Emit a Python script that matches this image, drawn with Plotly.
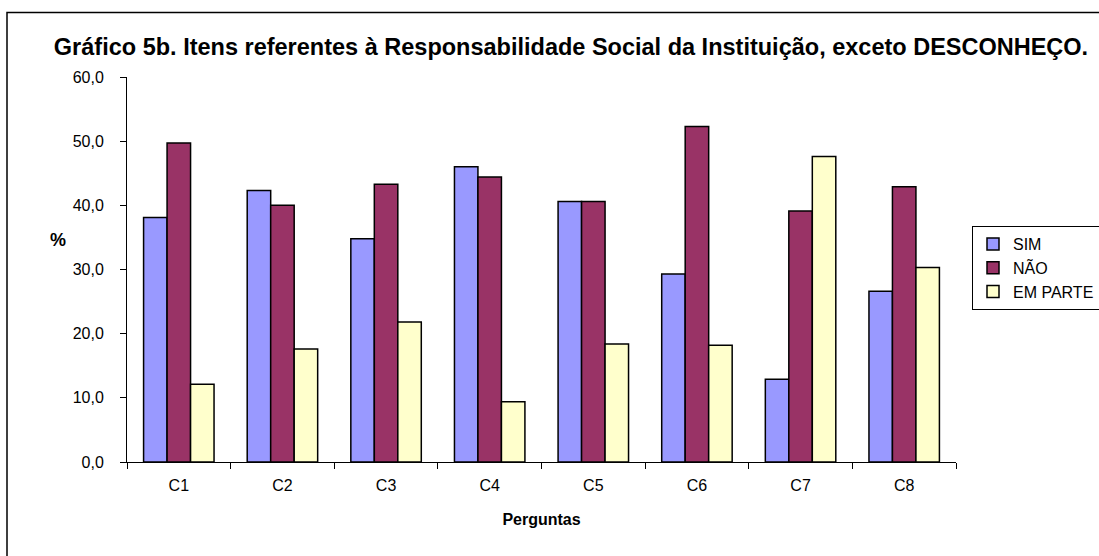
import plotly.graph_objects as go

# Percentual de respostas por pergunta (exceto "desconheço")
perguntas = ["C1", "C2", "C3", "C4", "C5", "C6", "C7", "C8"]
sim = [38.1, 42.3, 34.8, 46.0, 40.6, 29.3, 12.9, 26.6]
nao = [49.7, 40.0, 43.3, 44.4, 40.6, 52.3, 39.1, 42.9]
em_parte = [12.1, 17.6, 21.8, 9.4, 18.4, 18.2, 47.6, 30.3]

series = [
    ("SIM", sim, "#9999FF"),
    ("NÃO", nao, "#993366"),
    ("EM PARTE", em_parte, "#FFFFCC"),
]

FONT = "Liberation Sans, Arial, sans-serif"

fig = go.Figure()
for i, (nome, valores, cor) in enumerate(series):
    fig.add_trace(go.Bar(
        x=perguntas, y=valores, name=nome,
        legendgroup=f"g{i}",
        marker=dict(color=cor, line=dict(color="#000000", width=1.5)),
    ))

W, H = 1099, 556
L, R, T, B = 127, 956, 77, 462
pw, ph = R - L, B - T

def px_x(v):
    return (v - L) / pw

def px_y(v):
    return (B - v) / ph

fig.update_layout(
    width=W, height=H,
    margin=dict(l=L, r=W - R, t=T, b=H - B, autoexpand=False),
    paper_bgcolor="white", plot_bgcolor="white",
    separators=",.",
    barmode="group", bargap=0.32, bargroupgap=0,
    font=dict(family=FONT, size=16, color="#000000"),
    title=dict(
        text="<b>Gráfico 5b. Itens referentes à Responsabilidade Social da Instituição, exceto DESCONHEÇO.</b>",
        font=dict(family=FONT, size=23.5, color="#000000"),
        xref="container", yref="container",
        x=571 / W, xanchor="center",
        y=1 - 47 / H, yanchor="middle",
    ),
    xaxis=dict(
        showline=True, linecolor="#000000", linewidth=1,
        ticks="outside", tickson="boundaries", ticklen=6, tickcolor="#000000",
        ticklabelstandoff=9,
        tickfont=dict(family=FONT, size=16),
        title=dict(text="<b>Perguntas</b>", font=dict(family=FONT, size=16), standoff=20),
        showgrid=False,
    ),
    yaxis=dict(
        range=[0, 60], dtick=10, tickformat=".1f",
        showline=True, linecolor="#000000", linewidth=1,
        ticks="outside", ticklen=6, tickcolor="#000000",
        ticklabelstandoff=13,
        tickfont=dict(family=FONT, size=16),
        showgrid=False, zeroline=False,
    ),
    legend=dict(
        x=px_x(972), y=px_y(226), xanchor="left", yanchor="top",
        bordercolor="#000000", borderwidth=1, bgcolor="white",
        font=dict(family=FONT, size=16),
        tracegroupgap=10, traceorder="normal",
    ),
    showlegend=True,
)

# Rótulo "%" do eixo vertical
fig.add_annotation(
    text="<b>%</b>", x=px_x(58), y=px_y(240), xref="paper", yref="paper",
    showarrow=False, font=dict(family=FONT, size=18), xanchor="center", yanchor="middle",
)

# Moldura externa do gráfico
fig.add_shape(
    type="rect", xref="paper", yref="paper",
    x0=px_x(7), x1=px_x(1110), y0=px_y(570), y1=px_y(12.5),
    line=dict(color="#000000", width=1.5), fillcolor="rgba(0,0,0,0)", layer="below",
)

fig.write_html("out.html")
